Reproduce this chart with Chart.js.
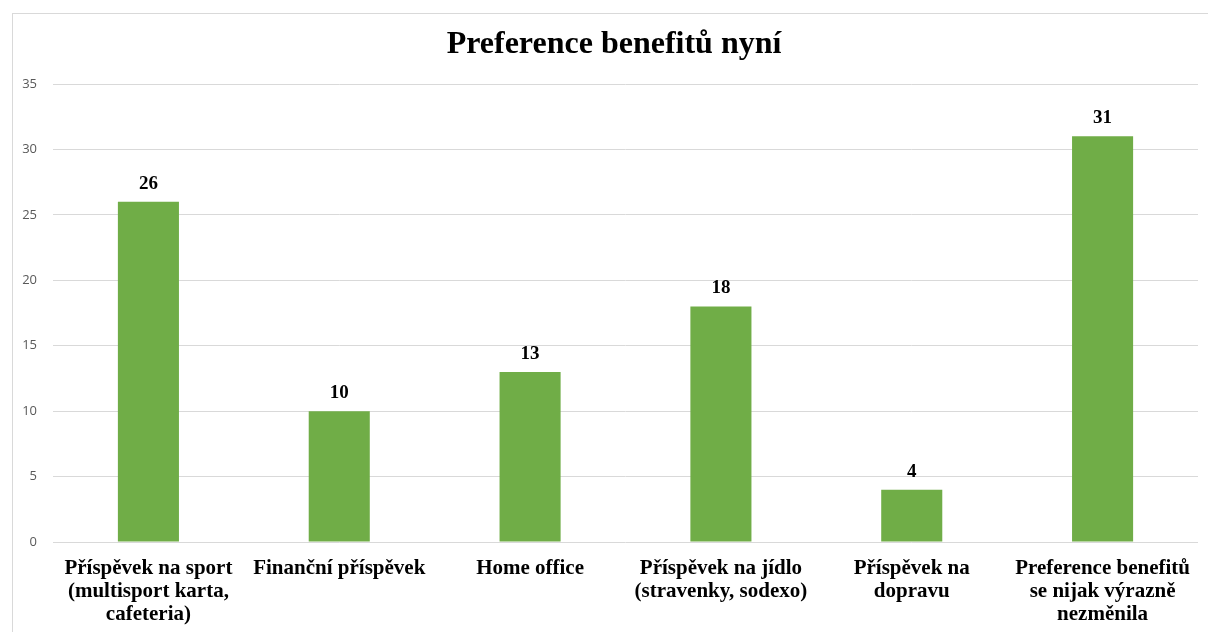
<!DOCTYPE html>
<html>
<head>
<meta charset="utf-8">
<script src="https://cdn.jsdelivr.net/npm/chart.js@4"></script>
<style>
  html, body { margin: 0; padding: 0; background: #fff; overflow: hidden; }
  #frame { position: absolute; left: 12px; top: 13px; width: 1300px; height: 700px; border: 1px solid #d9d9d9; }
  #wrap { position: absolute; left: 0; top: 0; width: 1208px; height: 632px; }
</style>
</head>
<body>
<div id="frame"></div>
<div id="wrap"><canvas id="chartJSContainer" width="1208" height="632"></canvas></div>
<script>
var chartTitle = 'Preference benefitů nyní';
var categories = [
    ['Příspěvek na sport', '(multisport karta,', 'cafeteria)'],
    ['Finanční příspěvek'],
    ['Home office'],
    ['Příspěvek na jídlo', '(stravenky, sodexo)'],
    ['Příspěvek na', 'dopravu'],
    ['Preference benefitů', 'se nijak výrazně', 'nezměnila']
];
var values = [26, 10, 13, 18, 4, 31];
var yTicks = [0, 5, 10, 15, 20, 25, 30, 35];

var serif = '"Liberation Serif", "DejaVu Serif", serif';

// title and labels above each bar
var extraText = {
    id: 'extraText',
    afterDatasetsDraw: function (chart) {
        var ctx = chart.ctx;
        var meta = chart.getDatasetMeta(0);
        ctx.save();
        ctx.fillStyle = '#000';
        ctx.textAlign = 'center';
        ctx.textBaseline = 'middle';
        ctx.font = 'bold 32px ' + serif;
        ctx.fillText(chartTitle, 614, 45);
        ctx.font = 'bold 19px ' + serif;
        meta.data.forEach(function (bar, i) {
            ctx.fillText(values[i], bar.x, bar.y - 18);
        });
        ctx.restore();
    }
};

var options = {
    type: 'bar',
    data: {
        labels: categories,
        datasets: [{
            data: values,
            backgroundColor: '#70ad47',
            borderWidth: 0,
            categoryPercentage: 1,
            barPercentage: 0.32
        }]
    },
    options: {
        responsive: false,
        animation: false,
        layout: { padding: { left: 12, right: 10, top: 84, bottom: 0 } },
        plugins: {
            legend: { display: false },
            tooltip: { enabled: false },
            title: { display: false }
        },
        scales: {
            x: {
                grid: { display: false, drawTicks: false },
                border: { display: false },
                ticks: {
                    color: '#000',
                    font: { family: serif, size: 21, weight: 'bold', lineHeight: 1.1 },
                    maxRotation: 0,
                    autoSkip: false,
                    padding: 15
                },
                afterFit: function (scale) { scale.height = 90; }
            },
            y: {
                min: 0,
                max: 35,
                afterBuildTicks: function (scale) {
                    scale.ticks = yTicks.map(function (v) { return { value: v }; });
                },
                grid: { color: '#d9d9d9', drawTicks: false },
                border: { display: false },
                ticks: {
                    color: '#595959',
                    font: { family: '"Open Sans", sans-serif', size: 13 },
                    padding: 16
                },
                afterFit: function (scale) { scale.width = 41; }
            }
        }
    },
    plugins: [extraText]
};

var ctx = document.getElementById('chartJSContainer').getContext('2d');
new Chart(ctx, options);
</script>
</body>
</html>
